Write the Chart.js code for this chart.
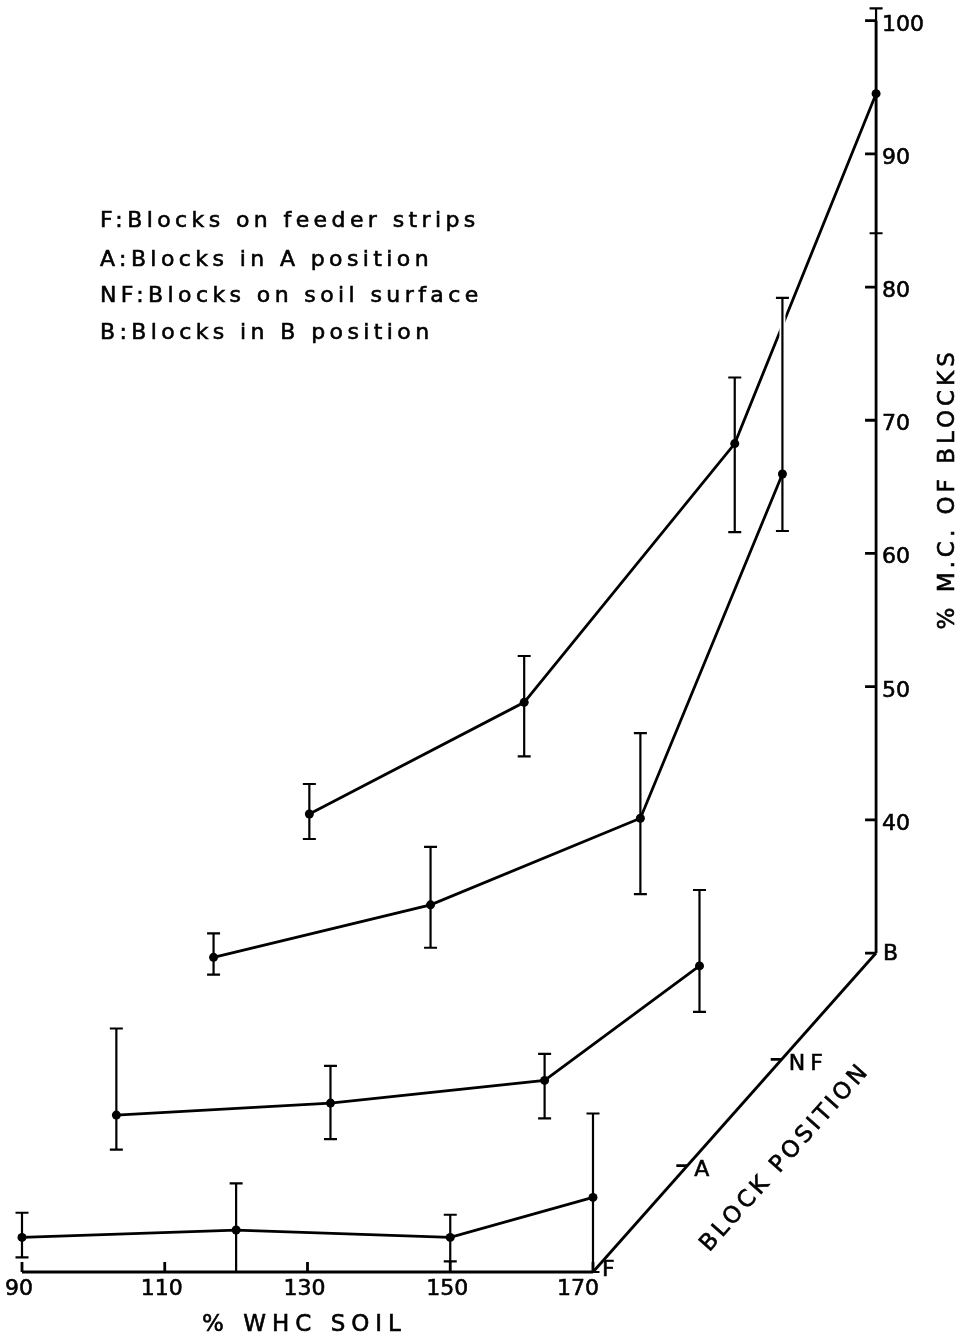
<!DOCTYPE html>
<html>
<head>
<meta charset="utf-8">
<script src="https://cdn.jsdelivr.net/npm/chart.js@4.4.1/dist/chart.umd.min.js"></script>
<style>
  html, body { margin: 0; padding: 0; background: #ffffff; overflow: hidden; }
  #wrap { width: 970px; height: 1338px; position: relative; }
</style>
</head>
<body>
<div id="wrap"><canvas id="c"></canvas></div>
<script>
// ---------- DATA ----------
const positions = ['F', 'A', 'NF', 'B'];           // block position (depth axis)
const whcTicks = [90, 110, 130, 150, 170];          // % WHC soil tick labels
const mcTicks = [40, 50, 60, 70, 80, 90, 100];      // % M.C. tick labels
const baseMc = 30;                                  // value at each plane's floor
const legendLines = [
  'F:Blocks on feeder strips',
  'A:Blocks in A position',
  'NF:Blocks on soil surface',
  'B:Blocks in B position'
];
const xTitle = '% WHC SOIL';
const yTitle = '% M.C. OF BLOCKS';
const zTitle = 'BLOCK POSITION';

// F : blocks on feeder strips
const fWhc = [90, 120, 150, 170];
const fMc  = [32.6, 33.15, 32.6, 35.6];
const fHi  = [34.45, 36.65, 34.3, 41.9];
const fLo  = [31.1, 30.0, 30.8, 30.0];
// A : blocks in A position
const aWhc = [90, 120, 150, 171.7];
const aMc  = [33.8, 34.7, 36.4, 45.0];
const aHi  = [40.3, 37.5, 38.4, 50.7];
const aLo  = [31.2, 32.0, 33.55, 41.55];
// NF : blocks on soil surface
const nfWhc = [90.4, 120.8, 150.2, 170.1];
const nfMc  = [37.66, 41.6, 48.1, 73.95];
const nfHi  = [39.46, 45.96, 54.5, 87.17];
const nfLo  = [36.36, 38.38, 42.41, 69.67];
// B : blocks in B position
const bWhc = [90.6, 120.7, 150.2, 170];
const bMc  = [40.44, 48.82, 68.25, 94.52];
const bHi  = [42.69, 52.3, 73.21, 100.93];
const bLo  = [38.56, 44.77, 61.6, 84.04];

// ---------- oblique projection of the block-position axis ----------
const STEP_X = 13.22;   // WHC units shifted per position step
const STEP_Y = 7.983;   // M.C. units shifted per position step
const LAST = positions.length - 1;
function proj(whc, mc, p) { return { x: whc + p * STEP_X, y: mc - (LAST - p) * STEP_Y }; }

const series = [
  { p: 0, whc: fWhc,  mc: fMc,  hi: fHi,  lo: fLo },
  { p: 1, whc: aWhc,  mc: aMc,  hi: aHi,  lo: aLo },
  { p: 2, whc: nfWhc, mc: nfMc, hi: nfHi, lo: nfLo },
  { p: 3, whc: bWhc,  mc: bMc,  hi: bHi,  lo: bLo }
];

const datasets = series.map((s) => ({
  label: positions[s.p],
  data: s.whc.map((w, i) => proj(w, s.mc[i], s.p)),
  borderColor: '#000',
  borderWidth: 2.8,
  pointRadius: 4.5,
  pointBackgroundColor: '#000',
  pointBorderColor: '#000',
  pointBorderWidth: 0,
  tension: 0,
  fill: false
}));

const FONT = '"DejaVu Sans", "Liberation Sans", sans-serif';

function setSpacing(ctx, v) { if ('letterSpacing' in ctx) ctx.letterSpacing = v; }
function text(ctx, t, x, y) {
  ctx.fillText(t, x, y);
  ctx.lineWidth = 0.6;
  ctx.strokeText(t, x, y);
}

const drawPlugin = {
  id: 'pseudo3d',
  afterDatasetsDraw(chart) {
    const ctx = chart.ctx;
    const xs = chart.scales.x, ys = chart.scales.y;
    const P = (whc, mc, p) => { const q = proj(whc, mc, p); return [xs.getPixelForValue(q.x), ys.getPixelForValue(q.y)]; };
    ctx.save();
    ctx.lineCap = 'butt';

    // ---- error bars ----
    series.forEach((s) => {
      s.whc.forEach((w, i) => {
        const [x, yHi] = P(w, s.hi[i], s.p);
        const [, yLo] = P(w, s.lo[i], s.p);
        const [, yM] = P(w, s.mc[i], s.p);
        // white halo (hidden-line break where other lines pass behind)
        ctx.strokeStyle = '#fff';
        ctx.lineWidth = 6;
        ctx.beginPath();
        if (yM - 11 > yHi) { ctx.moveTo(x, yHi); ctx.lineTo(x, yM - 11); }
        if (yM + 11 < yLo) { ctx.moveTo(x, yM + 11); ctx.lineTo(x, yLo); }
        ctx.stroke();
        ctx.strokeStyle = '#000';
        ctx.lineWidth = 2.2;
        ctx.beginPath();
        ctx.moveTo(x, yHi); ctx.lineTo(x, yLo);
        ctx.moveTo(x - 6.5, yHi); ctx.lineTo(x + 6.5, yHi);
        ctx.moveTo(x - 6.5, yLo); ctx.lineTo(x + 6.5, yLo);
        ctx.stroke();
      });
    });

    // ---- axes ----
    ctx.strokeStyle = '#000';
    ctx.fillStyle = '#000';
    const AXW = 2.8;
    ctx.lineWidth = AXW;
    const xMin = whcTicks[0], xMax = whcTicks[whcTicks.length - 1];
    const [bx0, by0] = P(xMin, baseMc, 0);
    const [bx1] = P(xMax, baseMc, 0);
    // floor line of F plane (WHC axis)
    ctx.beginPath(); ctx.moveTo(bx0, by0); ctx.lineTo(bx1, by0); ctx.stroke();
    ctx.beginPath();
    whcTicks.forEach((t) => { const [tx] = P(t, baseMc, 0); ctx.moveTo(tx, by0); ctx.lineTo(tx, by0 - 10); });
    ctx.stroke();
    ctx.font = '22px ' + FONT;
    ctx.textBaseline = 'alphabetic';
    whcTicks.forEach((t, i) => {
      const [tx] = P(t, baseMc, 0);
      if (i === whcTicks.length - 1) { ctx.textAlign = 'right'; text(ctx, String(t), tx + 6, by0 + 23); }
      else { ctx.textAlign = 'center'; text(ctx, String(t), tx - 3, by0 + 23); }
    });

    // depth axis (block position)
    const [cx0, cy0] = P(xMax, baseMc, 0);
    const [cx3, cy3] = P(xMax, baseMc, LAST);
    ctx.lineWidth = AXW;
    ctx.beginPath(); ctx.moveTo(cx0, cy0); ctx.lineTo(cx3, cy3); ctx.stroke();
    ctx.beginPath();
    for (let p = 1; p <= LAST; p++) { const [px, py] = P(xMax, baseMc, p); ctx.moveTo(px, py); ctx.lineTo(px - 11, py); }
    ctx.stroke();
    ctx.textAlign = 'left';
    ctx.textBaseline = 'middle';
    ctx.font = '22px ' + FONT;
    positions.forEach((lab, p) => {
      const [px, py] = P(xMax, baseMc, p);
      setSpacing(ctx, lab.length > 1 ? '5px' : '0px');
      text(ctx, lab, px + (p === 0 ? 9 : 7), py + (p === 0 ? -2 : (p === LAST ? 1 : 5)));
    });
    setSpacing(ctx, '0px');

    // vertical M.C. axis
    const [vx, vy0] = P(xMax, baseMc, LAST);
    const [, vy1] = P(xMax, mcTicks[mcTicks.length - 1], LAST);
    ctx.lineWidth = AXW;
    ctx.beginPath(); ctx.moveTo(vx, vy0); ctx.lineTo(vx, vy1); ctx.stroke();
    ctx.beginPath();
    mcTicks.forEach((t) => { const [, ty] = P(xMax, t, LAST); ctx.moveTo(vx, ty); ctx.lineTo(vx - 11, ty); });
    ctx.stroke();
    ctx.textAlign = 'left';
    ctx.textBaseline = 'alphabetic';
    mcTicks.forEach((t) => { const [, ty] = P(xMax, t, LAST); text(ctx, String(t), vx + 6, ty + 10); });

    // titles
    ctx.font = '23px ' + FONT;
    setSpacing(ctx, '6px');
    ctx.textAlign = 'center';
    text(ctx, xTitle, (bx0 + bx1) / 2 - 3, by0 + 59);

    ctx.save();
    setSpacing(ctx, '4px');
    ctx.translate(vx + 69, (vy0 + vy1) / 2 + 2);
    ctx.rotate(-Math.PI / 2);
    ctx.textAlign = 'center';
    ctx.textBaseline = 'alphabetic';
    text(ctx, yTitle, 0, 9);
    ctx.restore();

    ctx.save();
    setSpacing(ctx, '3.5px');
    const mx = (cx0 + cx3) / 2, my = (cy0 + cy3) / 2;
    const dx = cx3 - cx0, dy = cy3 - cy0, len = Math.hypot(dx, dy);
    const ux = dx / len, uy = dy / len;
    ctx.translate(mx - uy * 68, my + ux * 68);
    ctx.rotate(Math.atan2(dy, dx));
    ctx.textAlign = 'center';
    ctx.textBaseline = 'middle';
    text(ctx, zTitle, 0, 0);
    ctx.restore();

    // legend text
    ctx.font = '22px ' + FONT;
    setSpacing(ctx, '4.4px');
    ctx.textAlign = 'left';
    ctx.textBaseline = 'alphabetic';
    const legBase = [227, 266, 302, 339];
    legendLines.forEach((t, i) => text(ctx, t, 100, legBase[i]));
    setSpacing(ctx, '0px');

    ctx.restore();
  }
};

new Chart(document.getElementById('c').getContext('2d'), {
  type: 'line',
  data: { datasets },
  options: {
    responsive: true,
    maintainAspectRatio: false,
    animation: false,
    events: [],
    devicePixelRatio: 1,
    layout: { padding: 0, autoPadding: false },
    plugins: { legend: { display: false }, tooltip: { enabled: false } },
    scales: {
      x: { type: 'linear', min: 86.918, max: 222.82, display: false },
      y: { type: 'linear', min: 1.096, max: 101.554, display: false }
    }
  },
  plugins: [drawPlugin]
});
</script>
</body>
</html>
